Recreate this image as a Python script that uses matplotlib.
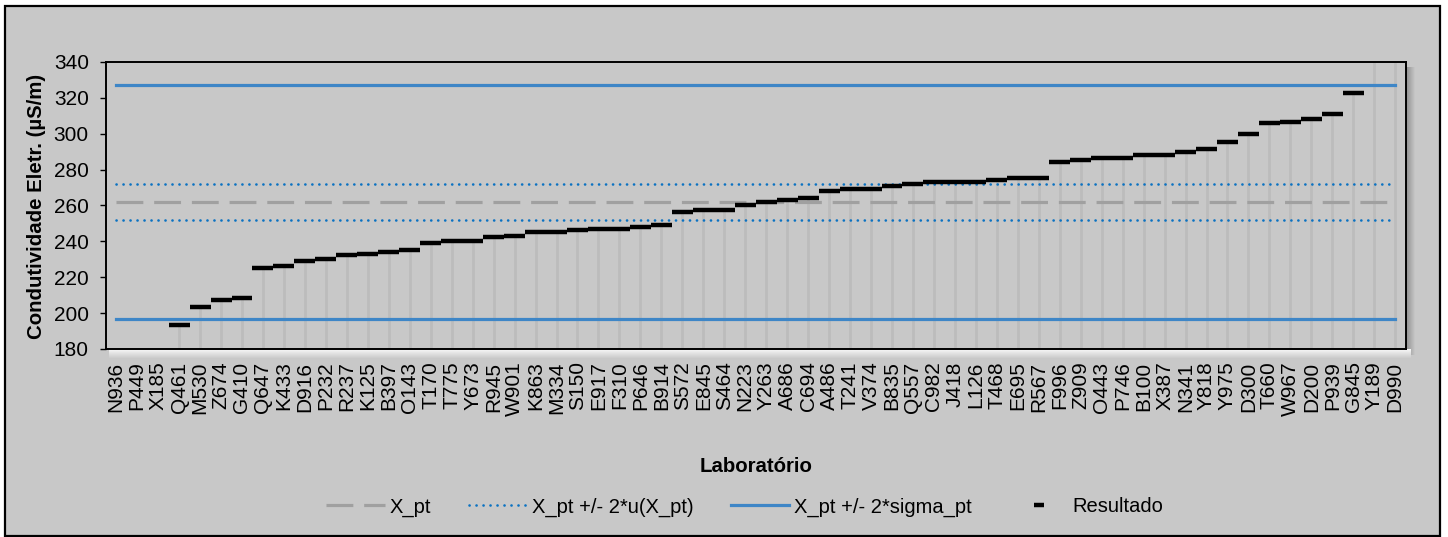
import numpy as np
import matplotlib
matplotlib.use("Agg")
import matplotlib.pyplot as plt
from matplotlib.patches import Rectangle
from matplotlib.lines import Line2D

plt.rcParams["font.family"] = ["Liberation Sans", "DejaVu Sans"]

laboratorios = [
    "N936", "P449", "X185", "Q461", "M530", "Z674", "G410", "Q647", "K433", "D916",
    "P232", "R237", "K125", "B397", "O143", "T170", "T775", "Y673", "R945", "W901",
    "K863", "M334", "S150", "E917", "F310", "P646", "B914", "S572", "E845", "S464",
    "N223", "Y263", "A686", "C694", "A486", "T241", "V374", "B835", "Q557", "C982",
    "J418", "L126", "T468", "E695", "R567", "F996", "Z909", "O443", "P746", "B100",
    "X387", "N341", "Y818", "Y975", "D300", "T660", "W967", "D200", "P939", "G845",
    "Y189", "D990",
]

resultado = [
    np.nan, np.nan, np.nan, 193.2, 203.5, 207.4, 208.3, 225.1, 226.2, 229.2,
    230.3, 232.4, 233.1, 234.2, 235.3, 239.2, 240.2, 240.2, 242.4, 243.2,
    245.4, 245.4, 246.3, 247.1, 247.1, 248.2, 249.3, 256.4, 257.5, 257.5,
    260.3, 262.0, 263.1, 264.2, 268.3, 269.4, 269.4, 270.7, 272.2, 273.2,
    273.2, 273.2, 274.4, 275.6, 275.6, 284.3, 285.6, 286.4, 286.4, 288.3,
    288.3, 289.6, 291.6, 295.5, 300.0, 305.8, 306.3, 308.4, 310.8, 322.5,
    352.0, 365.0,
]

x_pt = 262.0
u_2 = 10.0
sigma_2 = 65.0

y_min, y_max, y_step = 180, 340, 20

BG = "#C8C8C8"
W, H = 1448, 537

fig = plt.figure(figsize=(W / 100, H / 100), dpi=100)
fig.patch.set_facecolor("white")

# chart area with black frame
fig.patches.append(Rectangle((5 / W, 1.5 / H), (1440 - 5) / W, (531 - 1.5) / H,
                             transform=fig.transFigure, facecolor=BG,
                             edgecolor="black", linewidth=1.6, zorder=0))

# soft shadow around the plot area
ax_l, ax_r, ax_t, ax_b = 105.7, 1405.7, 62.0, 349.0
img = np.zeros((H, W, 4))
yy, xx = np.mgrid[0:H, 0:W]
right = (xx >= ax_r) & (xx < ax_r + 9) & (yy > ax_t + 4) & (yy < ax_b + 6)
img[right, 3] = 0.28 * (1 - (xx[right] - ax_r) / 9.0)
below = (yy >= ax_b) & (yy < ax_b + 9) & (xx > ax_l + 3) & (xx < ax_r + 5)
img[below, :3] = 1.0
img[below, 3] = 0.85 * (1 - (yy[below] - ax_b) / 9.0)
fig.figimage(img, 0, 0, origin="upper", zorder=0.5)

ax = fig.add_axes([ax_l / W, 1 - ax_b / H, (ax_r - ax_l) / W, (ax_b - ax_t) / H])
ax.set_facecolor(BG)
ax.set_zorder(1)

n = len(laboratorios)
x = np.arange(n)
vals = np.array(resultado, dtype=float)

DASHED = dict(color="#A0A0A0", linewidth=2.3, dashes=(8.4, 3.4))
DOTTED = dict(color="#0B72C2", linewidth=1.9, dashes=(0.05, 2.6),
              dash_capstyle="round")
SOLID = dict(color="#3E86C7", linewidth=2.3)

# drop lines from each result down to the axis
ax.vlines(x, y_min, vals, colors="#BCBCBC", linewidth=2.0, zorder=1)

ax.plot(x, np.full(n, x_pt), zorder=2, **DASHED)
ax.plot(x, np.full(n, x_pt + u_2), zorder=2, **DOTTED)
ax.plot(x, np.full(n, x_pt - u_2), zorder=2, **DOTTED)
ax.plot(x, np.full(n, x_pt + sigma_2), zorder=2, **SOLID)
ax.plot(x, np.full(n, x_pt - sigma_2), zorder=2, **SOLID)

# result dashes spanning each category
ax.hlines(vals, x - 0.5, x + 0.5, colors="black", linewidth=3.2, zorder=3)

ax.set_xlim(-0.5, n - 0.5)
ax.set_ylim(y_min, y_max)
ax.set_yticks(np.arange(y_min, y_max + 1, y_step))
ax.set_xticks(x)
ax.set_xticklabels(laboratorios, rotation=90, fontsize=15)
ax.tick_params(axis="x", length=0, pad=9)
ax.tick_params(axis="y", length=4.2, width=1.0, pad=8, labelsize=15)
for s in ax.spines.values():
    s.set_linewidth(1.4)
    s.set_color("black")

fig.text(37 / W, 1 - 206 / H, "Condutividade Eletr. (µS/m)", rotation=90,
         ha="center", va="center", fontsize=14.7, fontweight="bold")
fig.text(756 / W, 1 - 467 / H, "Laboratório", ha="center", va="center",
         fontsize=14.7, fontweight="bold")

handles = [
    Line2D([], [], **DASHED),
    Line2D([], [], **DOTTED),
    Line2D([], [], **SOLID),
    Line2D([], [], color="black", marker="_", markersize=7,
           markeredgewidth=3.2, linestyle="none"),
]
labels = ["X_pt", "X_pt +/- 2*u(X_pt)", "X_pt +/- 2*sigma_pt", "Resultado"]
fig.legend(handles, labels, loc="center", bbox_to_anchor=(745 / W, 1 - 507 / H),
           ncol=4, frameon=False, fontsize=14.5, handlelength=2.9,
           handletextpad=0.25, columnspacing=1.85)

fig.savefig("out.png", dpi=100)
